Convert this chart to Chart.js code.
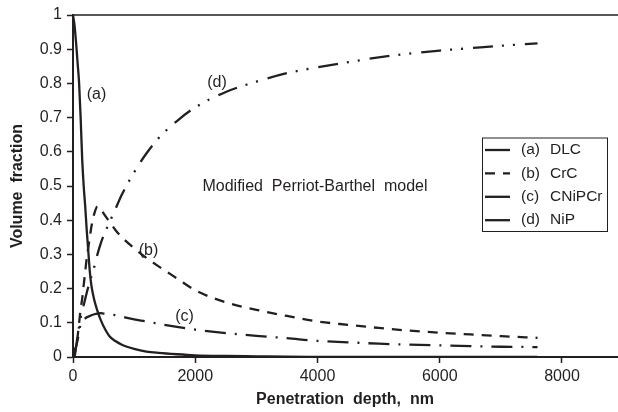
<!DOCTYPE html>
<html>
<head>
<meta charset="utf-8">
<script src="https://cdn.jsdelivr.net/npm/chart.js@4"></script>
<style>
  html, body { margin: 0; padding: 0; background: #fff; }
  #wrap { width: 618px; height: 412px; position: relative; }
</style>
</head>
<body>
<div id="wrap"><canvas id="chart"></canvas></div>
<script>
// penetration depth grid, nm (shared by all four curves)
const depth = [0, 25, 50, 75, 100, 125, 150, 175, 200, 225, 250, 275, 300, 350, 400, 450, 500,
  600, 700, 800, 1000, 1200, 1400, 1700, 2000, 2500, 3000, 3500, 4000, 4500, 5000, 5500,
  6000, 6500, 7000, 7600];

// volume fractions
const dlc = [1, 0.97, 0.92, 0.86, 0.8, 0.7, 0.58, 0.5, 0.44, 0.37, 0.31, 0.25, 0.21, 0.165, 0.135, 0.11, 0.09,
  0.06, 0.046, 0.036, 0.024, 0.016, 0.012, 0.008, 0.005, 0.003, 0.002, 0.001, 0.0005, 0, 0, 0,
  0, 0, 0, 0];
const crc = [0, 0, 0.03, 0.06, 0.1, 0.14, 0.17, 0.21, 0.25, 0.29, 0.32, 0.35, 0.38, 0.42, 0.44, 0.435, 0.42,
  0.395, 0.37, 0.35, 0.318, 0.29, 0.265, 0.23, 0.195, 0.16, 0.138, 0.12, 0.104, 0.094, 0.085, 0.077,
  0.071, 0.066, 0.061, 0.056];
const cnipcr = [0, 0.02, 0.03, 0.05, 0.07, 0.1, 0.107, 0.11, 0.113, 0.116, 0.118, 0.12, 0.122, 0.125, 0.127, 0.128, 0.127,
  0.125, 0.122, 0.118, 0.11, 0.104, 0.097, 0.088, 0.08, 0.07, 0.062, 0.055, 0.047, 0.043, 0.039, 0.036,
  0.034, 0.032, 0.03, 0.029];
const nip = [0, 0.01, 0.03, 0.06, 0.09, 0.115, 0.135, 0.152, 0.17, 0.188, 0.205, 0.22, 0.235, 0.265, 0.3, 0.33, 0.355,
  0.395, 0.435, 0.475, 0.54, 0.595, 0.64, 0.69, 0.73, 0.775, 0.805, 0.83, 0.847, 0.862, 0.876, 0.887,
  0.896, 0.903, 0.91, 0.917];

const seriesNames = ["DLC", "CrC", "CNiPCr", "NiP"];
const seriesTags = ["(a)", "(b)", "(c)", "(d)"];
const seriesValues = [dlc, crc, cnipcr, nip];
const dashes = [[], [10, 8], [21, 9, 2, 9], [20, 9, 2, 9, 2, 10]];

const xTicks = [0, 2000, 4000, 6000, 8000];

const ink = "#231f20";
const font = "'Liberation Sans', Arial, sans-serif";

// curve labels, placed in data coordinates
const notes = [
  {text: "(a)", x: 385, y: 0.768},
  {text: "(d)", x: 2356, y: 0.802},
  {text: "(b)", x: 1235, y: 0.311},
  {text: "(c)", x: 1824, y: 0.118},
  {text: "Modified  Perriot-Barthel  model", x: 3959, y: 0.499}
];

const datasets = seriesValues.map((vals, i) => ({
  label: seriesTags[i] + "  " + seriesNames[i],
  data: depth.map((d, j) => ({x: d, y: vals[j]})),
  borderColor: ink,
  borderWidth: 2.3,
  borderDash: dashes[i],
  borderCapStyle: "butt",
  pointRadius: 0,
  cubicInterpolationMode: "monotone",
  fill: false
}));

const extras = {
  id: "extras",
  afterDraw(chart) {
    const ctx = chart.ctx;
    const {left, top} = chart.chartArea;
    const xs = chart.scales.x, ys = chart.scales.y;
    ctx.save();
    // top frame line
    ctx.strokeStyle = ink;
    ctx.lineWidth = 1.5;
    ctx.beginPath();
    ctx.moveTo(left, top);
    ctx.lineTo(618, top);
    ctx.stroke();

    ctx.fillStyle = ink;
    ctx.textBaseline = "middle";
    ctx.textAlign = "center";
    ctx.font = "16px " + font;
    notes.forEach(n => {
      ctx.fillText(n.text, xs.getPixelForValue(n.x), ys.getPixelForValue(n.y));
    });

    // legend
    const bx = 482, by = 137.5, bw = 125, bh = 93.5;
    ctx.lineWidth = 1;
    ctx.strokeStyle = ink;
    ctx.fillStyle = "#fff";
    ctx.fillRect(bx, by, bw, bh);
    ctx.strokeRect(bx + 0.5, by + 0.5, bw, bh);
    ctx.font = "15.5px " + font;
    ctx.textAlign = "left";
    ctx.fillStyle = ink;
    chart.data.datasets.forEach((ds, i) => {
      const y = 150 + i * 23.4;
      ctx.lineWidth = 2.3;
      ctx.setLineDash(ds.borderDash.length && ds.borderDash[0] < 15 ? ds.borderDash : []);
      ctx.beginPath();
      ctx.moveTo(485, y);
      ctx.lineTo(510, y);
      ctx.stroke();
      ctx.setLineDash([]);
      ctx.fillText(seriesTags[i], 521, y);
      ctx.fillText(seriesNames[i], 550, y);
    });
    ctx.restore();
  }
};

new Chart(document.getElementById("chart"), {
  type: "line",
  data: {datasets},
  plugins: [extras],
  options: {
    responsive: true,
    maintainAspectRatio: false,
    animation: false,
    layout: {padding: {top: 15, right: 1, left: 0, bottom: 0}},
    plugins: {legend: {display: false}, tooltip: {enabled: false}},
    scales: {
      x: {
        type: "linear",
        min: 0,
        max: 8900,
        afterFit: s => { s.height = 55; },
        afterBuildTicks: s => { s.ticks = xTicks.map(v => ({value: v})); },
        border: {color: ink, width: 2},
        grid: {drawOnChartArea: false, tickLength: 6, tickColor: ink, tickWidth: 1.5},
        ticks: {color: ink, font: {family: font, size: 16}, padding: 4, maxRotation: 0,
          callback: v => String(v)},
        title: {display: true, text: "Penetration  depth,  nm", color: ink,
          font: {family: font, size: 16, weight: "bold"}, padding: {top: 0, bottom: 3}}
      },
      y: {
        min: 0,
        max: 1,
        afterFit: s => { s.width = 73; },
        border: {color: ink, width: 2},
        grid: {drawOnChartArea: false, tickLength: 6, tickColor: ink, tickWidth: 1.5},
        ticks: {stepSize: 0.1, color: ink, font: {family: font, size: 16}, padding: 5,
          callback: v => String(Math.round(v * 10) / 10)},
        title: {display: true, text: "Volume  fraction", color: ink,
          font: {family: font, size: 16, weight: "bold"}, padding: {top: 8, bottom: 0}}
      }
    }
  }
});
</script>
</body>
</html>
